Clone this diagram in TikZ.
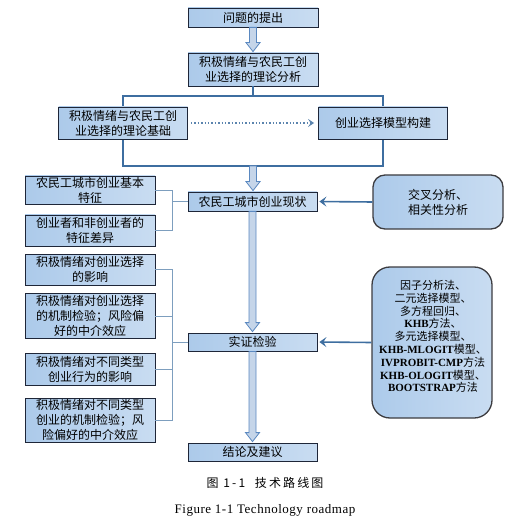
\documentclass[tikz,border=0pt]{standalone}
\usepackage{fontspec}
\setmainfont{Noto Sans CJK SC}
\newfontfamily\latin{Liberation Serif}
\newfontfamily\capfont[LetterSpace=18]{Noto Sans CJK SC}
\newfontfamily\capen[LetterSpace=4]{Liberation Serif}
\usetikzlibrary{positioning,calc,arrows.meta}

\definecolor{boxblue}{RGB}{172,202,234}
\definecolor{boxlight}{RGB}{244,248,253}
\definecolor{boxline}{RGB}{30,38,56}
\definecolor{roundline}{RGB}{60,60,64}
\definecolor{lineblue}{RGB}{62,110,160}
\definecolor{brackblue}{RGB}{125,158,190}
\definecolor{arrblue}{RGB}{90,136,192}

% block arrow between two anchors
\newcommand{\hollowarrow}[2]{%
  \path[hollow] let \p1=(#1), \p2=(#2) in
    (\x1-3.5pt,\y1) -- (\x1-3.5pt,\y2+10pt) -- (\x1-7pt,\y2+10pt) -- (\x1,\y2+1pt)
    -- (\x1+7pt,\y2+10pt) -- (\x1+3.5pt,\y2+10pt) -- (\x1+3.5pt,\y1) -- cycle;}

\begin{document}
\begin{tikzpicture}[x=1pt,y=-1pt,
  box/.style={draw=boxline, line width=0.8pt, left color=boxblue,
    middle color=boxlight, right color=boxblue!60!boxlight,
    minimum width=130pt, align=center, inner sep=1pt,
    font=\fontsize{12}{15}\selectfont},
  rbox/.style={box, draw=roundline, line width=1.3pt, rounded corners=12pt},
  hollow/.style={draw=arrblue, line width=0.8pt, left color=arrblue!35!white,
    middle color=white, right color=arrblue!35!white},
  frame/.style={lineblue, line width=1.6pt},
  bracket/.style={brackblue, line width=0.8pt},
  feed/.style={lineblue, line width=1.6pt, shorten >=2pt,
    -{Stealth[length=7pt,width=10pt,inset=3pt]}},
  dots/.style={lineblue!85, line width=1.4pt, dotted, shorten <=3pt, shorten >=4pt,
    -{Stealth[length=6pt,width=8pt,inset=2.5pt]}}]
  \useasboundingbox (0,0) rectangle (526,526);

  \node[box, minimum height=19pt] (q) at (253,17.5) {问题的提出};
  \node[box, minimum height=33pt] (ana) at (253,69.5) {积极情绪与农民工创\\业选择的理论分析};
  \hollowarrow{q.south}{ana.north}

  \coordinate (ftop) at (253,96);
  \coordinate (fbot) at (253,166);
  \draw[frame] (ana.south) -- (ftop);
  \draw[frame] (123,96) rectangle (383,166);

  \node[box, minimum width=129pt, minimum height=32pt] (base) at (123,123) {积极情绪与农民工创\\业选择的理论基础};
  \node[box, minimum width=129pt, minimum height=32pt] (model) at (383,123) {创业选择模型构建};
  \draw[dots] (base.east) -- (model.west);

  \node[box, minimum width=129pt, minimum height=19pt] (status) at (252.5,201.5) {农民工城市创业现状};
  \hollowarrow{fbot}{status.north}

  \node[box, minimum height=28pt] (f1) at (90,190) {农民工城市创业基本\\特征};
  \node[box, minimum height=31pt] (f2) at (90,230.5) {创业者和非创业者的\\特征差异};
  \draw[bracket] (f1.east) -- ++(17,0) |- (f2.east);
  \draw[bracket] (status.west) -- ++(-16,0);

  \node[rbox, minimum height=54pt] (cross) at (438,202) {交叉分析、\\相关性分析};
  \draw[feed] (cross.west) -- (status.east);

  \node[box, minimum width=129pt, minimum height=18pt] (test) at (252.5,342) {实证检验};
  \hollowarrow{status.south}{test.north}

  \node[box, minimum height=31pt] (e1) at (90,269.5) {积极情绪对创业选择\\的影响};
  \node[box, minimum height=45pt] (e2) at (90,316) {积极情绪对创业选择\\的机制检验；风险偏\\好的中介效应};
  \node[box, minimum height=32pt] (e3) at (90,369) {积极情绪对不同类型\\创业行为的影响};
  \node[box, minimum height=44pt] (e4) at (90,420) {积极情绪对不同类型\\创业的机制检验；风\\险偏好的中介效应};
  \draw[bracket] (e1.east) -- ++(17,0) |- (e4.east);
  \draw[bracket] (e2.east) -- ++(17,0);
  \draw[bracket] (e3.east) -- ++(17,0);
  \draw[bracket] (test.west) -- ++(-16,0);

  \node[rbox, rounded corners=18pt, minimum width=120pt, minimum height=151pt] (methods) at (432,342.5) {};
  \node[align=center, font=\fontsize{11}{12.8}\selectfont] (mtext) at (433,336.5)
    {因子分析法、\\二元选择模型、\\多方程回归、\\{\latin\bfseries KHB}方法、\\多元选择模型、\\
     {\latin\bfseries KHB-MLOGIT}模型、\\{\latin\bfseries IVPROBIT-CMP}方法\\
     {\latin\bfseries KHB-OLOGIT}模型、\\{\latin\bfseries BOOTSTRAP}方法};
  \draw[feed] (methods.west) -- (test.east);

  \node[box, minimum width=129pt, minimum height=18pt] (concl) at (252.5,452) {结论及建议};
  \hollowarrow{test.south}{concl.north}

  \node[font=\capfont\fontsize{12}{14}\selectfont] (cap) at (265,483) {图 1-1\ \ 技术路线图};
  \node[font=\capen\fontsize{13}{15}\selectfont] (capen) at (265,510) {Figure 1-1 Technology roadmap};
\end{tikzpicture}
\end{document}
